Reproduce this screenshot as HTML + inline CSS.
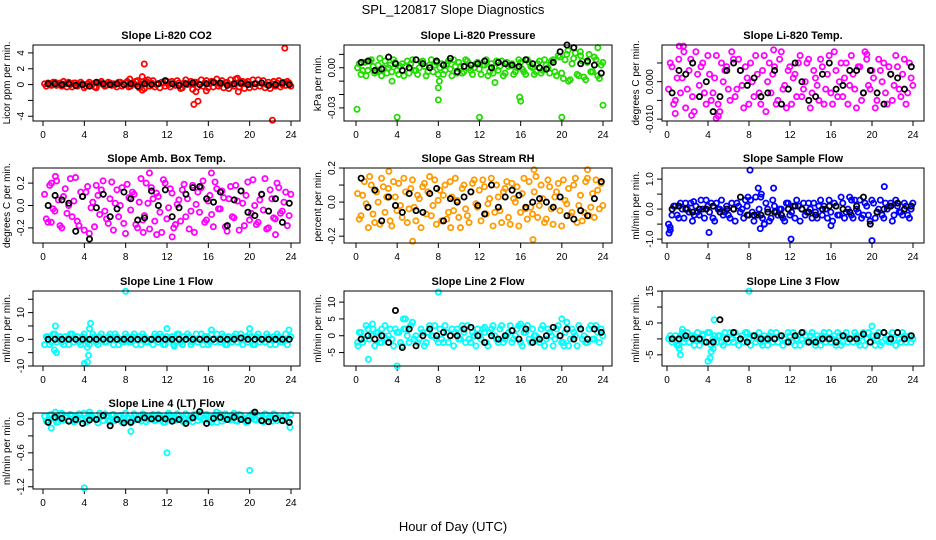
<!DOCTYPE html>
<html><head><meta charset="utf-8"><style>
body{margin:0;background:#fff}
svg{display:block;font-family:"Liberation Sans",sans-serif}
</style></head><body>
<svg id="c" width="936" height="540" viewBox="0 0 936 540">
<text x="453" y="14" text-anchor="middle" font-size="13">SPL_120817  Slope Diagnostics</text>
<text x="453" y="531" text-anchor="middle" font-size="13">Hour of Day (UTC)</text>
</svg>
<script>
const titles=["Slope Li-820 CO2","Slope Li-820 Pressure","Slope Li-820 Temp.","Slope Amb. Box Temp.","Slope Gas Stream RH","Slope Sample Flow","Slope Line 1 Flow","Slope Line 2 Flow","Slope Line 3 Flow","Slope Line 4 (LT) Flow"];
const yTitles=["Licor ppm per min.","kPa per min.","degrees C per min.","degrees C per min.","percent per min.","ml/min per min.","ml/min per min.","ml/min per min.","ml/min per min.","ml/min per min."];
const xTicks=[0,4,8,12,16,20,24];
const yTickVals=[[-4,-2,0,2,4],[0.01,0,-0.01,-0.02,-0.03],[0.005,0,-0.005,-0.01],[0.2,0,-0.2],[0.2,0.1,0,-0.1,-0.2],[1,0.5,0,-0.5,-1],[15,10,5,0,-5,-10],[10,5,0,-5],[15,10,5,0,-5],[0,-0.3,-0.6,-0.9,-1.2]];
const yTickLabels=[["-4","","0","2","4"],["","0.00","","","-0.03"],["","0.000","","-0.010"],["0.2","0.0","-0.2"],["0.2","","0.0","","-0.2"],["1.0","","0.0","","-1.0"],["","10","","0","","-10"],["10","5","0","-5"],["15","","5","","-5"],["0.0","","-0.6","","-1.2"]];
const yDomains=[[-4.6,5.0],[-0.0398,0.017],[-0.0105,0.0098],[-0.335,0.335],[-0.24,0.2],[-1.13,1.37],[-10,18.1],[-9,13.3],[-8.5,15.03],[-1.24,0.105]];
const units=[1,0.001,0.001,0.01,0.01,0.1,1,1,1,0.01];
const colors=["#ff0000","#22dd00","#ff00ff","#ff00ff","#ff9a00","#0000ff","#00ffff","#00ffff","#00ffff","#00ffff"];

const cDense=[
[0.1,0.2,-0.1,0.3,0,-0.2,0.1,0.3,-0.3,0.2,0,0.1,-0.2,0.3,0.1,-0.4,0.2,0,-0.1,0.2,0.1,-0.3,0.3,0,0.4,-0.2,0.1,0.5,0,-0.5,0.6,0.2,-0.3,0.1,0.3,-0.2,0,0.4,-0.1,0.2,-0.4,0.6,0.1,-0.6,0.3,0,-0.2,0.5,0.1,-0.3,0.7,0,-0.4,0.3,0.6,-0.2,0.8,0.1,-0.5,0.4,0,-0.3,0.6,0.2,-0.4,0.3,0.1,-0.2,0.5,0,-0.1,0.2],
[0,-5,4,-2,6,-4,2,-6,5,0,-3,4,-5,3,1,-4,6,-2,0,5,-6,2,-3,4,0,-5,3,-1,6,-4,1,-3,5,-2,0,4,-5,2,-6,3,0,-2,5,-4,1,3,-3,6,-1,-5,4,0,-3,5,-2,2,-4,6,-6,8,-8,10,-9,7,-5,9,-7,4,-3,8,-6,2],
[-2,4,-5,6,1,-7,3,-4,8,-1,5,-6,2,-3,7,-8,0,4,-5,6,-2,3,-7,1,5,-4,2,-6,7,0,-3,4,-5,8,-1,3,-6,2,5,-4,0,6,-3,1,-5,4,-2,7,-6,3,0,-4,5,-1,2,-7,4,-3,6,-2,1,-5,3,5,-6,2,-1,4,-4,6,-3,1],
[10,-15,20,-5,5,-20,15,0,-10,25,-18,8,12,-25,3,18,-8,22,-12,6,-22,14,0,-16,19,-4,10,-20,24,-9,2,16,-14,8,-24,20,-2,11,-17,5,14,-10,-21,18,1,-6,22,-13,9,-19,15,-3,7,-23,17,-11,4,13,-18,21,-7,0,-15,10,24,-20,6,-12,16,-5,12,-9],
[5,-8,12,-3,10,-12,0,14,-6,8,-14,3,11,-9,6,-4,13,-11,2,9,-7,15,-2,-13,7,4,-10,12,-5,1,-15,10,-8,6,13,-3,-11,9,-1,14,-6,3,-12,8,-9,11,0,-14,5,-4,12,-7,15,-2,2,-10,9,-13,6,-5,13,-1,-8,10,-12,4,-6,14,-3,-9,7,11],
[-5,-2,1,-3,0,2,-1,-4,1,-2,0,3,-1,-3,2,0,-2,1,-3,0,2,-1,-3,1,3,-4,-2,4,-5,0,-3,1,-2,0,-4,2,-1,-3,1,0,-2,2,-3,-1,1,-2,0,3,-4,1,-2,2,-1,4,-3,0,3,-2,1,-4,2,-1,3,-3,0,2,-2,1,-1,2,-2,0],
[-2,1,-1,2,0,-1,1,-2,2,0,-1,1,0,-2,2,-1,1,0,-1,2,-2,1,0,-1,1,-1,2,0,-2,1,-1,0,2,-1,1,-2,0,1,-1,2,-2,0,1,-1,2,0,-2,1,-1,0,2,-1,1,-2,0,1,-1,2,0,-1,1,-2,2,0,-1,1,0,-2,1,-1,2,0],
[-2,1,-1,2,0,-3,1,-2,3,0,-1,2,1,-3,2,-2,4,0,-1,1,-2,3,0,-1,2,-2,1,0,-3,2,-1,1,3,-2,0,2,-1,1,-3,2,0,-2,3,-1,1,-2,0,3,-3,1,-1,2,0,-2,3,-1,1,-3,2,0,-2,4,-1,1,-3,2,0,-2,3,-1,1,2],
[0,-1,1,-2,2,0,-1,1,0,-2,1,-1,2,0,-1,1,-2,0,2,-1,1,0,-1,2,-2,1,0,-1,1,-2,2,0,-1,1,0,2,-1,-2,1,0,1,-1,2,-2,0,1,-1,2,0,-2,1,-1,2,0,-1,1,-2,2,0,-1,1,0,-2,2,1,-1,0,2,-1,1,0,-1],
[5,-3,8,0,-5,10,2,-2,6,-4,9,1,-6,7,3,-1,10,-3,4,-5,8,0,6,-2,3,-7,9,1,-4,7,-1,5,-3,8,0,-6,10,2,-2,6,-4,9,1,-5,7,3,-1,8,-3,4,-6,9,0,5,-2,10,-4,7,1,-5,8,-1,6,-3,9,0,-4,7,2,-2,5,-6]];
const cDense2=[
[-0.2,0,0.3,-0.1,0.2,0.4,-0.3,0,0.2,-0.2,0.3,-0.4,0.1,0,-0.3,0.2,0.4,-0.2,0.3,-0.1,0,0.3,-0.2,0.2,-0.3,0.1,0.4,-0.4,0.3,0.2,-0.2,0.5,0,-0.4,0.2,0.4,-0.3,0.1,0.5,-0.5,0.2,0,0.4,0.3,-0.3,0.6,0.2,-0.4,0.4,0.2,-0.2,0.5,0.2,-0.5,0,0.7,-0.3,0.4,0.2,-0.4,0.6,0.1,-0.2,0.5,0,-0.5,0.4,0.2,-0.3,0.3,0.4,-0.2],
[3,-2,-6,5,1,-3,7,0,-4,2,6,-2,1,-6,5,3,-2,-5,4,1,-3,6,2,-5,3,-2,5,-6,1,4,-4,6,0,-5,3,-1,2,6,-3,-4,5,1,-6,4,2,-5,0,4,-3,6,1,-5,3,-4,6,0,5,-3,9,-4,6,-10,3,11,-6,5,-9,10,-3,6,-8,4],
[5,-6,1,-3,8,-2,6,-8,2,4,-3,7,-5,1,-6,5,3,-2,8,-4,6,-1,4,-6,0,7,-3,3,-8,5,2,-6,6,-2,-7,4,1,-4,7,-2,5,-7,3,-1,6,-6,2,-3,8,-4,5,1,-6,7,-2,4,-5,8,-1,3,-7,6,0,-3,4,-5,7,-2,2,-6,5,-1],
[-12,18,-3,22,-18,8,-7,24,4,-14,12,-22,17,-2,-19,9,14,-5,-16,21,2,-10,16,-25,7,12,-17,3,-13,20,-21,6,11,-6,23,-12,15,-20,1,-14,19,6,-5,-24,12,16,-15,4,-8,21,-3,13,-19,6,-10,18,-22,2,9,-13,23,-17,5,-4,-21,14,-11,20,-7,3,-18,10],
[-10,4,-1,15,-7,6,-13,9,3,-11,12,-5,-2,14,-12,8,-3,4,-15,11,6,-8,13,1,-11,10,-6,3,14,-9,8,-4,-12,11,-1,7,13,-7,2,-14,10,-5,6,12,-13,2,9,-6,14,-10,-3,6,-9,10,-12,13,-4,3,11,-14,1,8,-6,14,-2,-11,12,-8,5,13,-4,-2],
[-7,1,-2,2,-3,0,2,-2,-1,3,-3,1,2,-4,0,3,-1,-2,2,-4,1,0,3,-2,-1,4,0,-3,2,-4,3,-1,0,-3,2,-2,1,3,-4,2,-1,0,2,-3,3,1,-3,-1,2,-2,4,-3,0,-2,3,-1,-3,2,-2,3,-3,0,-2,2,1,-4,3,-1,-2,1,-3,2],
[1,-2,2,-1,1,-2,0,2,-1,1,-2,2,-1,0,1,-2,2,-1,1,0,2,-2,-1,2,-1,1,-2,1,2,-1,0,-2,1,2,-2,1,0,-2,2,-1,1,2,-2,0,-1,2,1,-2,2,-1,0,2,-2,1,-1,2,0,-2,1,2,-2,1,-1,0,2,-2,1,2,-1,0,-2,1],
[1,-2,3,-1,2,1,-2,0,-1,2,-3,1,-2,2,0,3,-1,-2,2,-3,1,0,3,-2,-1,3,-2,2,1,-1,3,-2,-1,1,-3,0,2,-2,1,3,-1,2,-2,0,3,-1,2,-2,1,3,-2,0,-1,2,-3,2,0,-1,3,-2,1,-3,2,0,3,-1,-2,2,-1,3,-2,0],
[1,0,-2,1,-1,2,1,-2,2,0,-1,2,-2,1,1,-1,2,-1,0,2,-2,1,2,0,1,-1,2,-2,0,1,-1,2,1,-2,-1,1,2,0,-2,2,-1,1,0,1,-2,2,0,-1,1,2,-2,1,-1,0,2,-1,1,-2,2,1,-2,2,-1,0,-1,2,-2,0,2,-1,1,0],
[-4,7,1,-6,9,-2,5,8,-5,3,-1,10,-4,6,1,-7,4,9,-2,7,-3,5,-6,10,1,-4,6,-1,9,-5,3,8,-2,5,-6,4,7,-3,9,1,-5,6,0,8,-3,10,-2,4,-6,7,2,-4,9,-1,6,-3,8,2,-6,5,10,-2,4,-5,7,1,9,-3,-1,6,-4,8]];
const cOutliers=[
[[9.6,1.0],[9.8,2.6],[14.6,-2.5],[15.0,-2.1],[22.2,-4.5],[23.4,4.6],[9.6,-0.7],[15.8,-0.8],[14.8,-0.9],[18.9,-0.9],[10,0.4],[8.4,0.7]],
[[0.1,-31],[4,-37],[8,-15],[8,-24],[8.1,-10],[12,-37],[15.9,-22],[16,-25],[20,-37],[24,-28],[23.5,15],[20.6,13],[21.8,12],[3.5,-10],[13.5,-11]],
[[1.2,9.5],[1.6,9.5],[4.8,-9.8],[5,-9.2],[2.4,-9],[10.4,8.5],[19.5,7.3],[0.8,-8.5]],
[[1.2,26],[10.3,29],[16.3,29],[12.5,-28],[9.7,-24],[0.8,-15],[11,-26],[22.5,-26]],
[[5.5,-23],[17.2,-22],[17.3,19],[22.5,19],[3.2,18],[9.2,-15],[1.2,-15]],
[[0.2,-8],[0.3,-6],[4.1,-7.8],[8.1,13],[8.9,7],[9.2,5],[9.1,-6.5],[9.5,-5],[10.4,7],[12.1,-10],[16,-5.5],[20,-10.5],[21.2,7.5],[18,3],[2.6,2.5],[7.9,4]],
[[1.2,5],[1.1,-4],[1.3,-5],[4,-9],[4.3,-8.5],[4.4,-6],[4.5,4],[4.6,6],[4.3,-3],[8,18],[12,4],[16.3,3.5],[20,4],[23.8,3.5],[12.7,-2.5],[13.5,-2]],
[[0.2,-3],[1.2,-7],[1.6,3.5],[4,-9],[4.6,5],[4.8,5],[8,13],[16,3.5],[20,5],[20.2,-3],[12.5,2.5],[2.5,2]],
[[1.2,-3],[1.3,-5],[1.5,3],[4,-7],[4.2,-6],[4.3,-4],[4.5,-3],[4.6,6],[8,15],[20,4],[3.5,1.5]],
[[4,-122],[12,-60],[20,-91],[8.5,-22],[23.9,-15],[0.8,-16],[4.5,12],[1.2,12],[16.8,12]]];
const blackVals=[
[0.1,0.1,0,0.1,-0.1,0,-0.2,0.3,0.1,0,0.1,0,0.1,-0.2,0.1,0,0.1,0.5,0.1,-0.1,0.1,0.2,0,0.1,0.3,0.2,-0.1,0.1,0.2,0,0.1,0.2,-0.1,0,0.2,0],
[4,5,-2,-1,8,3,-2,0,6,3,0,5,2,7,-3,1,2,3,5,0,4,3,2,1,6,3,0,-1,4,12,17,15,3,5,2,-4],
[-3,3,2,5,-4,0,-8,-4,3,5,3,-1,1,-4,-3,3,-6,-2,5,0,-5,-4,2,5,-2,-1,3,3,-3,3,-3,-6,2,1,-2,4],
[0,9,5,2,-23,8,-30,-2,10,-10,-3,12,6,-13,-11,13,0,14,-10,-2,10,16,17,6,3,12,-18,5,13,-6,-9,10,-5,6,-15,2],
[14,-3,7,-11,3,-2,-6,5,-5,-6,5,8,-11,2,0,3,6,-2,-7,10,-3,3,7,4,-3,0,2,0,-3,3,-8,-10,-5,-8,2,12],
[0,1,0,-1,0,0,1,-1,0,0,4,-2,-2,-2,-1,-1,-2,0,1,0,-1,-2,0,1,1,0,-1,1,4,-5,-1,0,1,2,0,1],
[0,0,0,0,0,0,0,0,0,0,0,0,0,0,0,0,0,0,0,0,0,0,0,0,0,0,0,0,0.5,0,0,0,0,0,0,0],
[-1,0,-1,0,-2,7.5,-3.5,2,-3,0,2,0,1,0,0,2,2.5,0,-2,0,-1,0,1.5,-1,2,-2,-1,0,2.5,0,2,-1,2,-1,2,1],
[0,0,1,0,0,-1,-1,6,0,2,0,-1,1,0,0,0,1,-1,1,2,-1,-1,0,0,-1,1,0,0,1.5,-1,1,2,0,2,0,1],
[-6,3,1,-4,-1,-8,-2,-1,6,-12,-1,-7,-6,-1,2,0,1,0,-4,-1,-8,2,13,-8,1,3,-1,3,-1,-3,12,-3,-5,1,-3,-6]];

const NS="http://www.w3.org/2000/svg";
const svg=document.getElementById('c');
const colBox=[[33,300,43,291],[344,612,356,603],[662,924,667,913]];
const rowBox=[[45,121],[168,243],[291,366],[413,489]];
function mk(tag,attrs,parent){const e=document.createElementNS(NS,tag);for(const k in attrs)e.setAttribute(k,attrs[k]);(parent||svg).appendChild(e);return e;}
for(let p=0;p<10;p++){
  const cb=colBox[p%3],rb=rowBox[Math.floor(p/3)];
  const g=mk('g',{});
  
  
  const xs=h=>cb[2]+(cb[3]-cb[2])*h/24;
  const [d0,d1]=yDomains[p];
  const ys=v=>rb[1]-(v-d0)/(d1-d0)*(rb[1]-rb[0]);
  const t=mk('text',{x:(cb[0]+cb[1])/2,y:rb[0]-6,'text-anchor':'middle','font-size':'11','font-weight':'bold'},g);
  t.textContent=titles[p];
  
  
  xTicks.forEach(h=>{
    mk('line',{x1:xs(h),x2:xs(h),y1:rb[1],y2:rb[1]+5,stroke:'#000'},g);
    const l=mk('text',{x:xs(h),y:rb[1]+17,'text-anchor':'middle','font-size':'10'},g);
    l.textContent=h;
    
    
  });
  yTickVals[p].forEach((v,i)=>{
    const y=ys(v);
    mk('line',{x1:cb[0]-5,x2:cb[0],y1:y,y2:y,stroke:'#000'},g);
    const lab=yTickLabels[p][i];
    if(lab){
      const tx=cb[0]-9;
      const l=mk('text',{x:tx,y:y,'text-anchor':'middle','font-size':'10',transform:`rotate(-90 ${tx} ${y})`},g);
      l.textContent=lab;
      
      
    }
  });
  const yx=cb[0]-23,ym=(rb[0]+rb[1])/2;
  const yt=mk('text',{x:yx,y:ym,'text-anchor':'middle','font-size':'10',transform:`rotate(-90 ${yx} ${ym})`},g);
  yt.textContent=yTitles[p];
  
  
  const u=units[p],col=colors[p];
  const pts=mk('g',{fill:'none',stroke:col,'stroke-width':'1.8'},g);
  
  
  [cDense[p],cDense2[p]].forEach((arr,k)=>{
    const n=arr.length;
    arr.forEach((v,i)=>{
      const h=i*24/n+0.15+k*24/n/2;
      const c=mk('circle',{cx:xs(h),cy:ys(v*u),r:2.6},pts);
      
      
    });
  });
  cOutliers[p].forEach(([h,v])=>{
    const c=mk('circle',{cx:xs(h),cy:ys(v*u),r:2.6},pts);
    
    
  });
  const bp=mk('g',{fill:'none',stroke:'#000','stroke-width':'1.8'},g);
  
  
  blackVals[p].forEach((v,i)=>{
    const h=0.5+i*2/3;
    const c=mk('circle',{cx:xs(h),cy:ys(v*u),r:2.6},bp);
    
    
  });
  const fr=mk('rect',{x:cb[0],y:rb[0],width:cb[1]-cb[0],height:rb[1]-rb[0],fill:'none',stroke:'#000','stroke-width':'1'},g);
  
  
}
</script>
</body></html>
